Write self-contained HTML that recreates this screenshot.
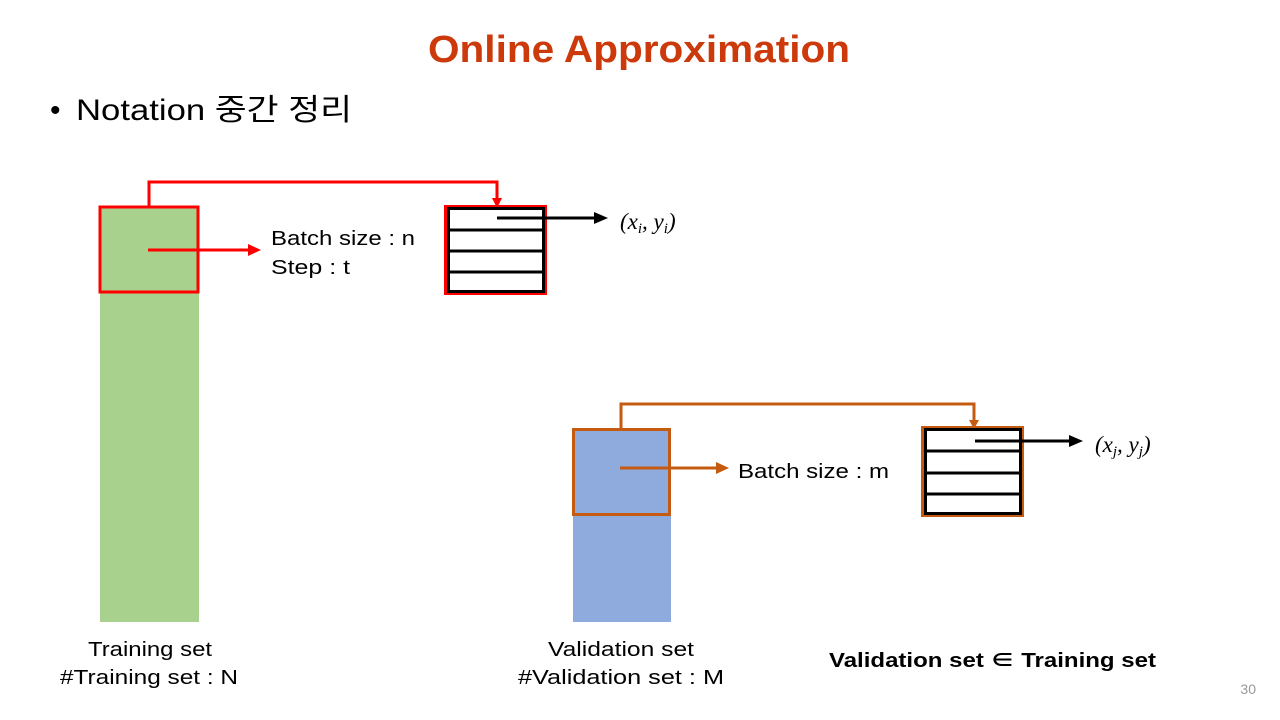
<!DOCTYPE html>
<html><head><meta charset="utf-8"><style>
body{margin:0;background:#fff}
svg{display:block}
text{font-family:"Liberation Sans","Noto Sans CJK KR",sans-serif}
.m{font-family:"Liberation Serif","DejaVu Serif",serif;font-style:italic}
</style></head><body>
<svg width="1280" height="720" viewBox="0 0 1280 720" xmlns="http://www.w3.org/2000/svg">
<text x="428" y="62" font-size="38" font-weight="bold" fill="#cc3a0c" textLength="422" lengthAdjust="spacingAndGlyphs">Online Approximation</text>
<text x="50" y="120" font-size="30" fill="#000">•</text>
<text x="76" y="120" font-size="30" fill="#000" textLength="276" lengthAdjust="spacingAndGlyphs">Notation 중간 정리</text>

<rect x="100" y="206" width="99" height="416" fill="#a9d18e"/>
<rect x="100" y="207" width="98" height="85" fill="none" stroke="#ff0000" stroke-width="3"/>
<polyline points="149,207 149,182 497,182 497,200" fill="none" stroke="#ff0000" stroke-width="3"/>
<polygon points="492,198 502,198 497,208" fill="#ff0000"/>
<line x1="148" y1="250" x2="250" y2="250" stroke="#ff0000" stroke-width="3"/>
<polygon points="248,244 261,250 248,256" fill="#ff0000"/>
<text x="271" y="245" font-size="20" textLength="144" lengthAdjust="spacingAndGlyphs">Batch size : n</text>
<text x="271" y="274" font-size="20" textLength="79" lengthAdjust="spacingAndGlyphs">Step : t</text>
<rect x="445.5" y="206.5" width="100" height="87" fill="none" stroke="#ff0000" stroke-width="3"/>
<rect x="448.5" y="208.5" width="95" height="83" fill="none" stroke="#000" stroke-width="3"/>
<g stroke="#000" stroke-width="3"><line x1="448" y1="230" x2="544" y2="230"/><line x1="448" y1="251" x2="544" y2="251"/><line x1="448" y1="272" x2="544" y2="272"/></g>
<line x1="497" y1="218" x2="596" y2="218" stroke="#000" stroke-width="3"/>
<polygon points="594,212 608,218 594,224" fill="#000"/>
<text x="620" y="229" font-size="23" class="m">(x<tspan font-size="15" dy="4">i</tspan><tspan dy="-4">, y</tspan><tspan font-size="15" dy="4">i</tspan><tspan dy="-4">)</tspan></text>

<rect x="573" y="428" width="98" height="194" fill="#8faadc"/>
<rect x="573.5" y="429.5" width="96" height="85" fill="none" stroke="#c55a11" stroke-width="3"/>
<polyline points="621,429 621,404 974,404 974,422" fill="none" stroke="#c55a11" stroke-width="3"/>
<polygon points="969,420 979,420 974,429" fill="#c55a11"/>
<line x1="620" y1="468" x2="718" y2="468" stroke="#c55a11" stroke-width="3"/>
<polygon points="716,462 729,468 716,474" fill="#c55a11"/>
<text x="738" y="478" font-size="20" textLength="151" lengthAdjust="spacingAndGlyphs">Batch size : m</text>
<rect x="922.5" y="427.5" width="100" height="88" fill="none" stroke="#c55a11" stroke-width="3"/>
<rect x="925.5" y="429.5" width="95" height="84" fill="none" stroke="#000" stroke-width="3"/>
<g stroke="#000" stroke-width="3"><line x1="925" y1="451" x2="1021" y2="451"/><line x1="925" y1="473" x2="1021" y2="473"/><line x1="925" y1="494" x2="1021" y2="494"/></g>
<line x1="975" y1="441" x2="1071" y2="441" stroke="#000" stroke-width="3"/>
<polygon points="1069,435 1083,441 1069,447" fill="#000"/>
<text x="1095" y="452" font-size="23" class="m">(x<tspan font-size="15" dy="4">j</tspan><tspan dy="-4">, y</tspan><tspan font-size="15" dy="4">j</tspan><tspan dy="-4">)</tspan></text>

<text x="88" y="656" font-size="20" textLength="124" lengthAdjust="spacingAndGlyphs">Training set</text>
<text x="60" y="684" font-size="20" textLength="178" lengthAdjust="spacingAndGlyphs">#Training set : N</text>
<text x="548" y="656" font-size="20" textLength="146" lengthAdjust="spacingAndGlyphs">Validation set</text>
<text x="518" y="684" font-size="20" textLength="206" lengthAdjust="spacingAndGlyphs">#Validation set : M</text>
<text x="829" y="667" font-size="20" font-weight="bold" textLength="327" lengthAdjust="spacingAndGlyphs">Validation set ∈ Training set</text>
<text x="1256" y="694" font-size="14" fill="#999" text-anchor="end">30</text>
</svg>
</body></html>
